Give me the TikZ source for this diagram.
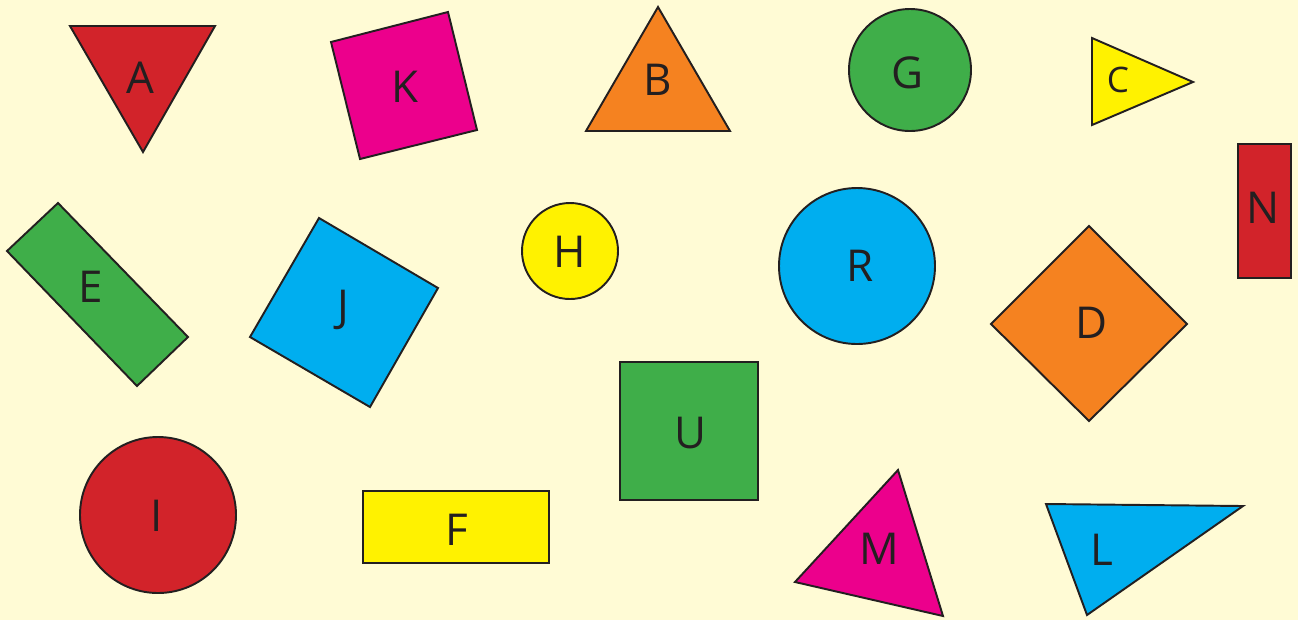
\documentclass[tikz,border=0pt]{standalone}
\usepackage{fontspec}
\setmainfont{Open Sans}
\definecolor{paper}{HTML}{FFFBD5}
\definecolor{ink}{HTML}{231F20}
\definecolor{shred}{HTML}{D2232A}
\definecolor{shmag}{HTML}{EC008C}
\definecolor{shora}{HTML}{F58220}
\definecolor{shgrn}{HTML}{3FAE49}
\definecolor{shyel}{HTML}{FFF200}
\definecolor{shblu}{HTML}{00AEEF}
\tikzset{
  shp/.style={draw=ink, line width=1.1pt, line join=miter},
  lbl/.style={text=ink, font=\fontsize{25}{25}\selectfont, inner sep=0pt}
}
\begin{document}
\begin{tikzpicture}[x=0.02cm, y=-0.02cm]
  \fill[paper] (0,0) rectangle (1298,620);
  \useasboundingbox (0,0) rectangle (1298,620);
  % top row
  \filldraw[shp, fill=shred] (70,26) -- (215,26) -- (143,152) -- cycle;
  \node[lbl] (a) at (140,78) {A};
  \filldraw[shp, fill=shmag] (331,42) -- (448,12) -- (477,130) -- (360,159) -- cycle;
  \node[lbl] (k) at (405,87) {K};
  \filldraw[shp, fill=shora] (586,131) -- (658,7) -- (730,131) -- cycle;
  \node[lbl] (b) at (658,80) {B};
  \filldraw[shp, fill=shgrn] (910,70) circle (61);
  \node[lbl] (g) at (907,73) {G};
  \filldraw[shp, fill=shyel] (1092,38) -- (1193,82) -- (1092,125) -- cycle;
  \node[lbl, font=\fontsize{20}{20}\selectfont] (c) at (1118,80) {C};
  \filldraw[shp, fill=shred] (1238,144) rectangle (1291,278);
  \node[lbl] (n) at (1263,208) {N};
  % middle row
  \filldraw[shp, fill=shgrn] (7,251) -- (58,203) -- (188,337) -- (137,386) -- cycle;
  \node[lbl] (e) at (91,287) {E};
  \filldraw[shp, fill=shblu] (250,337) -- (319,218) -- (438,288) -- (370,407) -- cycle;
  \node[lbl] (j) at (343,310) {J};
  \filldraw[shp, fill=shyel] (570,251) circle (48);
  \node[lbl] (h) at (570,252) {H};
  \filldraw[shp, fill=shblu] (857,266) circle (78);
  \node[lbl] (r) at (860,266) {R};
  \filldraw[shp, fill=shora] (1089,226) -- (1187,324) -- (1089,421) -- (991,324) -- cycle;
  \node[lbl] (d) at (1091,323) {D};
  % bottom row
  \filldraw[shp, fill=shgrn] (620,362) rectangle (758,500);
  \node[lbl] (u) at (690,433) {U};
  \filldraw[shp, fill=shred] (158,515) circle (78);
  \node[lbl] (i) at (157,516) {I};
  \filldraw[shp, fill=shyel] (363,491) rectangle (549,563);
  \node[lbl] (f) at (457,530) {F};
  \filldraw[shp, fill=shmag] (795,582) -- (898,470) -- (943,616) -- cycle;
  \node[lbl] (m) at (879,549) {M};
  \filldraw[shp, fill=shblu] (1046,504) -- (1243,506) -- (1087,615) -- cycle;
  \node[lbl] (l) at (1102,550) {L};
\end{tikzpicture}
\end{document}
